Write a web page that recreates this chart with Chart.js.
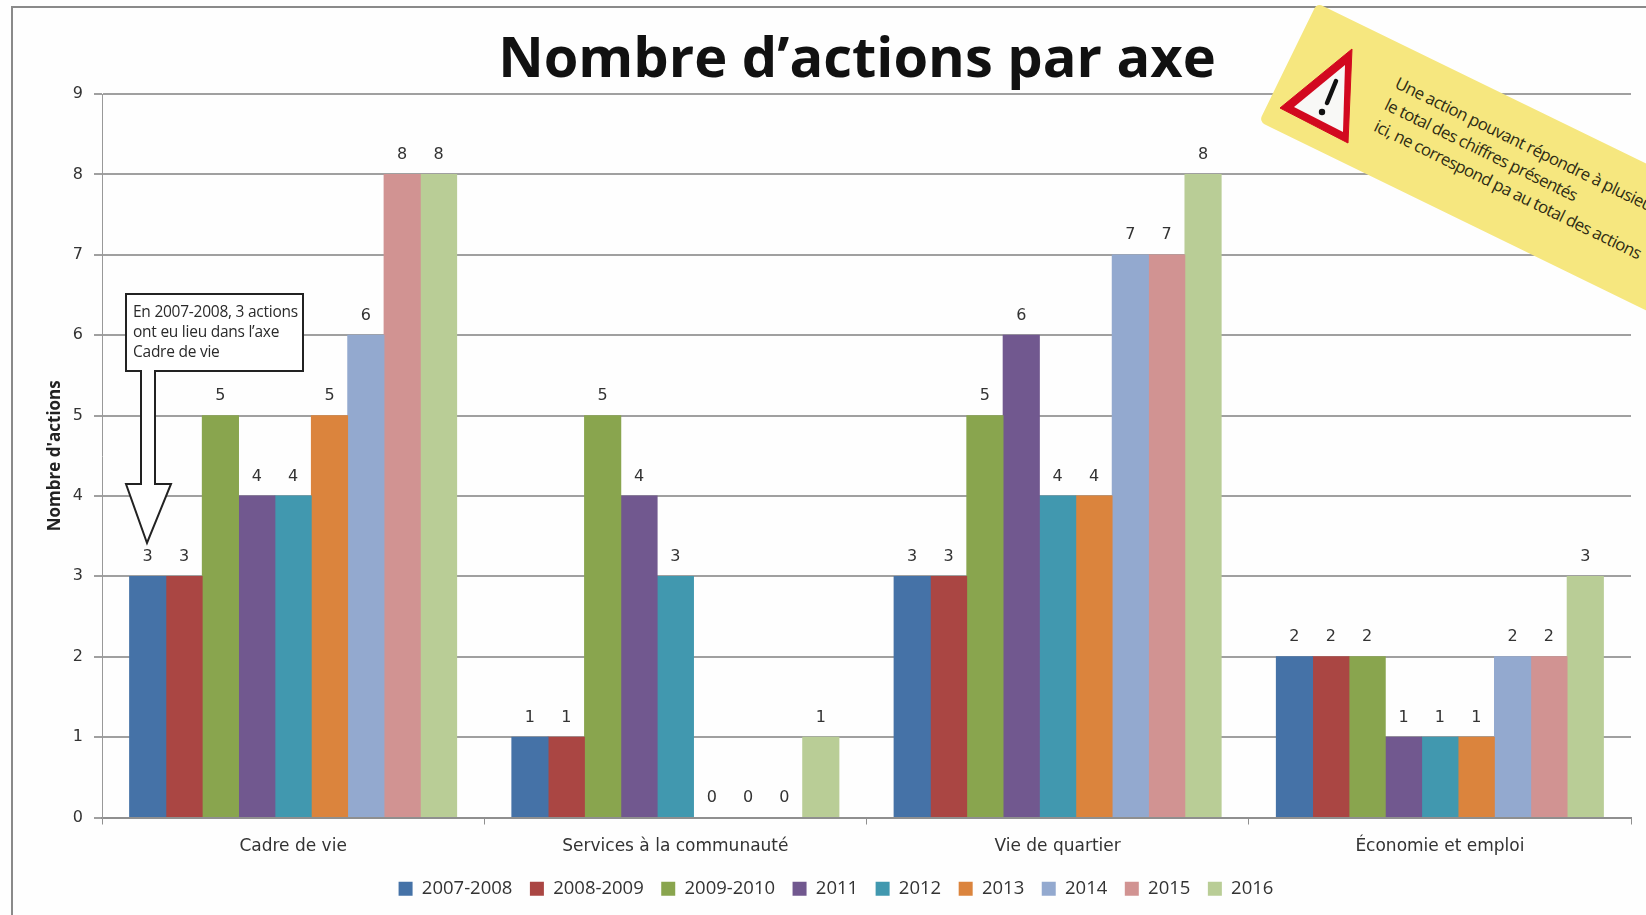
<!DOCTYPE html>
<html lang="fr"><head><meta charset="utf-8">
<script src="https://cdn.jsdelivr.net/npm/chart.js@4"></script>
<style>
html,body{margin:0;padding:0;width:1646px;height:915px;overflow:hidden;background:#fefefe}
#wrap{position:relative;width:1646px;height:915px;overflow:hidden}
canvas{position:absolute;left:0;top:0}
#frame{position:absolute;left:11px;top:6px;width:1646px;height:920px;border-left:2px solid #8a8a8a;border-top:2px solid #8a8a8a}
#banner{position:absolute;left:1317px;top:3px;width:520px;height:132px;background:#f6e77f;transform-origin:0 0;transform:rotate(26deg);border-radius:6px;overflow:visible}
.bl{position:absolute;left:106px;font:400 16.8px/1 "Open Sans",sans-serif;color:#2e2c14;letter-spacing:-.6px;white-space:nowrap}
#marks{position:absolute;left:0;top:0}
#note{position:absolute;left:133px;top:301px;font:400 15.5px/20px "Open Sans",sans-serif;color:#2a2a2a;letter-spacing:-.25px;white-space:nowrap}
</style></head><body>
<div id="wrap">
<canvas id="c" width="1646" height="915"></canvas>
<div id="frame"></div>
<svg id="marks" width="1646" height="915">
 <path d="M126 371H303V294H126V371H141V484H126L147 543L171 484H155V371" fill="#fff" stroke="#222" stroke-width="2" stroke-linejoin="miter"/>
 <rect x="142" y="369" width="12" height="4" fill="#fff"/>
</svg>
<div id="note">En 2007-2008, 3 actions<br>ont eu lieu dans l’axe<br>Cadre de vie</div>
<div id="banner">
 <div class="bl" style="top:28px">Une action pouvant répondre à plusieurs axes,</div>
 <div class="bl" style="top:52px">le total des chiffres présentés</div>
 <div class="bl" style="top:76px">ici, ne correspond pa au total des actions</div>
</div>
<svg id="warn" width="1646" height="915" style="position:absolute;left:0;top:0">
 <path d="M1352 49L1280 108L1348 143Z" fill="#d2091f" stroke="#d2091f" stroke-width="1" stroke-linejoin="round"/>
 <path d="M1345 65L1294 107L1343 132Z" fill="#f8f8f6"/>
 <path d="M1336 81L1327 103" stroke="#111" stroke-width="4.5" stroke-linecap="round"/>
 <circle cx="1322" cy="112" r="3.2" fill="#111"/>
</svg>
</div>
<script>
const categories = ["Cadre de vie", "Services à la communauté", "Vie de quartier", "Économie et emploi"];
const seriesLabels = ["2007-2008","2008-2009","2009-2010","2011","2012","2013","2014","2015","2016"];
const v2007_2008 = [3,1,3,2];
const v2008_2009 = [3,1,3,2];
const v2009_2010 = [5,5,5,2];
const v2011 = [4,4,6,1];
const v2012 = [4,3,4,1];
const v2013 = [5,0,4,1];
const v2014 = [6,0,7,2];
const v2015 = [8,0,7,2];
const v2016 = [8,1,8,3];
const seriesValues = [v2007_2008,v2008_2009,v2009_2010,v2011,v2012,v2013,v2014,v2015,v2016];
const seriesColors = ["#4572a7","#aa4643","#89a54e","#71588f","#4198af","#db843d","#93a9cf","#d19392","#b9cd96"];
const yTicks = [0,1,2,3,4,5,6,7,8,9];
const ink = "#333";

const valueLabels = {
  id:"valueLabels",
  afterDatasetsDraw(chart){
    const {ctx}=chart;
    ctx.save();
    ctx.font='16px "DejaVu Sans"';
    ctx.fillStyle=ink;
    ctx.textAlign="center";
    ctx.textBaseline="middle";
    chart.data.datasets.forEach((ds,i)=>{
      chart.getDatasetMeta(i).data.forEach((bar,j)=>{
        ctx.fillText(String(ds.data[j]),bar.x,bar.y-19.5);
      });
    });
    ctx.restore();
  }
};
const shiftBlocks = {
  id:"shiftBlocks",
  afterLayout(chart){
    chart.titleBlock.left += 38;
    chart.legend.left -= 4;
  }
};

new Chart(document.getElementById("c"),{
  type:"bar",
  data:{
    labels:categories,
    datasets:seriesLabels.map((label,i)=>({label,data:seriesValues[i],backgroundColor:seriesColors[i],borderWidth:0,inflateAmount:c=>c.raw?0.4:0}))
  },
  plugins:[valueLabels,shiftBlocks],
  options:{
    responsive:false,
    animation:false,
    layout:{padding:{left:45,right:15,top:0,bottom:7}},
    datasets:{bar:{barPercentage:1,categoryPercentage:0.856}},
    plugins:{
      tooltip:{enabled:false},
      title:{display:true,text:"Nombre d’actions par axe",color:"#111",
        font:{family:"Open Sans",size:56,weight:"700",lineHeight:1},
        padding:{top:33,bottom:5}},
      legend:{position:"bottom",
        labels:{color:ink,font:{family:"Open Sans",size:18.5},boxWidth:14,boxHeight:14,padding:17.5,useBorderRadius:false}}
    },
    scales:{
      x:{
        border:{color:"#8f8f8f",width:2},
        grid:{display:true,drawOnChartArea:false,drawTicks:true,tickLength:7,color:"#8f8f8f",lineWidth:1},
        ticks:{color:ink,font:{family:"DejaVu Sans",size:17},padding:12,maxRotation:0},
        afterFit(s){s.height=44.5;}
      },
      y:{
        min:0,max:9,
        afterBuildTicks(s){s.ticks=yTicks.map(value=>({value}));},
        border:{color:"#999",width:1},
        grid:{color:"#a0a0a0",lineWidth:2,tickLength:8,drawTicks:true},
        ticks:{color:ink,font:{family:"DejaVu Sans",size:16},padding:11},
        title:{display:true,text:"Nombre d'actions",color:"#222",font:{family:"Open Sans",size:17,weight:"700"},padding:0},
        afterFit(s){s.width=57;}
      }
    }
  }
});
</script>
</body></html>
